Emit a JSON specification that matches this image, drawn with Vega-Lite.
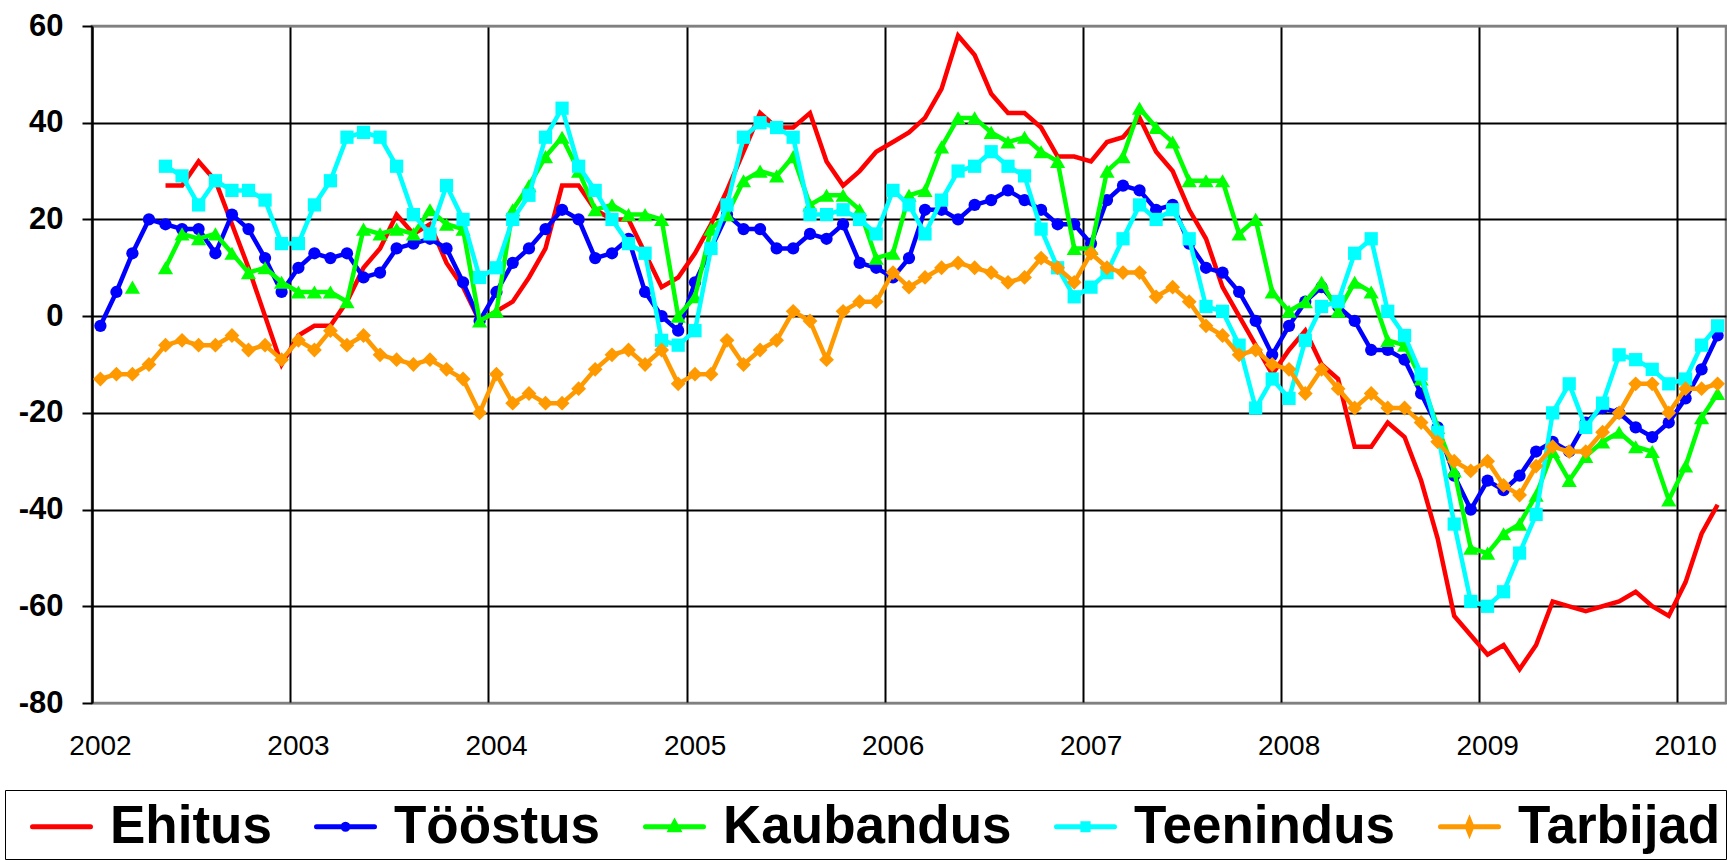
{
  "$schema": "https://vega.github.io/schema/vega-lite/v6.json",
  "width": 1634,
  "height": 677,
  "autosize": {"type": "none"},
  "padding": {"left": 92, "top": 26, "right": 1, "bottom": 157},
  "background": "white",
  "config": {
    "view": {"stroke": "#808080", "strokeWidth": 2.5},
    "axis": {"gridOpacity": 1}
  },
  "data": {
    "values": [
      {"date": "2002-01", "Ehitus": null, "Tööstus": -2, "Kaubandus": null, "Teenindus": null, "Tarbijad": -13},
      {"date": "2002-02", "Ehitus": null, "Tööstus": 5, "Kaubandus": null, "Teenindus": null, "Tarbijad": -12},
      {"date": "2002-03", "Ehitus": null, "Tööstus": 13, "Kaubandus": 6, "Teenindus": null, "Tarbijad": -12},
      {"date": "2002-04", "Ehitus": null, "Tööstus": 20, "Kaubandus": null, "Teenindus": null, "Tarbijad": -10},
      {"date": "2002-05", "Ehitus": 27, "Tööstus": 19, "Kaubandus": 10, "Teenindus": 31, "Tarbijad": -6},
      {"date": "2002-06", "Ehitus": 27, "Tööstus": 18, "Kaubandus": 17, "Teenindus": 29, "Tarbijad": -5},
      {"date": "2002-07", "Ehitus": 32, "Tööstus": 18, "Kaubandus": 16, "Teenindus": 23, "Tarbijad": -6},
      {"date": "2002-08", "Ehitus": 28, "Tööstus": 13, "Kaubandus": 17, "Teenindus": 28, "Tarbijad": -6},
      {"date": "2002-09", "Ehitus": 19, "Tööstus": 21, "Kaubandus": 13, "Teenindus": 26, "Tarbijad": -4},
      {"date": "2002-10", "Ehitus": 10, "Tööstus": 18, "Kaubandus": 9, "Teenindus": 26, "Tarbijad": -7},
      {"date": "2002-11", "Ehitus": 0, "Tööstus": 12, "Kaubandus": 10, "Teenindus": 24, "Tarbijad": -6},
      {"date": "2002-12", "Ehitus": -10, "Tööstus": 5, "Kaubandus": 7, "Teenindus": 15, "Tarbijad": -9},
      {"date": "2003-01", "Ehitus": -4, "Tööstus": 10, "Kaubandus": 5, "Teenindus": 15, "Tarbijad": -5},
      {"date": "2003-02", "Ehitus": -2, "Tööstus": 13, "Kaubandus": 5, "Teenindus": 23, "Tarbijad": -7},
      {"date": "2003-03", "Ehitus": -2, "Tööstus": 12, "Kaubandus": 5, "Teenindus": 28, "Tarbijad": -3},
      {"date": "2003-04", "Ehitus": 3, "Tööstus": 13, "Kaubandus": 3, "Teenindus": 37, "Tarbijad": -6},
      {"date": "2003-05", "Ehitus": 10, "Tööstus": 8, "Kaubandus": 18, "Teenindus": 38, "Tarbijad": -4},
      {"date": "2003-06", "Ehitus": 14, "Tööstus": 9, "Kaubandus": 17, "Teenindus": 37, "Tarbijad": -8},
      {"date": "2003-07", "Ehitus": 21, "Tööstus": 14, "Kaubandus": 18, "Teenindus": 31, "Tarbijad": -9},
      {"date": "2003-08", "Ehitus": 17, "Tööstus": 15, "Kaubandus": 17, "Teenindus": 21, "Tarbijad": -10},
      {"date": "2003-09", "Ehitus": 19, "Tööstus": 16, "Kaubandus": 22, "Teenindus": 17, "Tarbijad": -9},
      {"date": "2003-10", "Ehitus": 11, "Tööstus": 14, "Kaubandus": 19, "Teenindus": 27, "Tarbijad": -11},
      {"date": "2003-11", "Ehitus": 6, "Tööstus": 7, "Kaubandus": 18, "Teenindus": 20, "Tarbijad": -13},
      {"date": "2003-12", "Ehitus": -1, "Tööstus": -1, "Kaubandus": -1, "Teenindus": 8, "Tarbijad": -20},
      {"date": "2004-01", "Ehitus": 1, "Tööstus": 5, "Kaubandus": 1, "Teenindus": 10, "Tarbijad": -12},
      {"date": "2004-02", "Ehitus": 3, "Tööstus": 11, "Kaubandus": 22, "Teenindus": 20, "Tarbijad": -18},
      {"date": "2004-03", "Ehitus": 8, "Tööstus": 14, "Kaubandus": 27, "Teenindus": 25, "Tarbijad": -16},
      {"date": "2004-04", "Ehitus": 14, "Tööstus": 18, "Kaubandus": 33, "Teenindus": 37, "Tarbijad": -18},
      {"date": "2004-05", "Ehitus": 27, "Tööstus": 22, "Kaubandus": 37, "Teenindus": 43, "Tarbijad": -18},
      {"date": "2004-06", "Ehitus": 27, "Tööstus": 20, "Kaubandus": 30, "Teenindus": 31, "Tarbijad": -15},
      {"date": "2004-07", "Ehitus": 22, "Tööstus": 12, "Kaubandus": 22, "Teenindus": 26, "Tarbijad": -11},
      {"date": "2004-08", "Ehitus": 20, "Tööstus": 13, "Kaubandus": 23, "Teenindus": 20, "Tarbijad": -8},
      {"date": "2004-09", "Ehitus": 20, "Tööstus": 16, "Kaubandus": 21, "Teenindus": 15, "Tarbijad": -7},
      {"date": "2004-10", "Ehitus": 13, "Tööstus": 5, "Kaubandus": 21, "Teenindus": 13, "Tarbijad": -10},
      {"date": "2004-11", "Ehitus": 6, "Tööstus": 0, "Kaubandus": 20, "Teenindus": -5, "Tarbijad": -7},
      {"date": "2004-12", "Ehitus": 8, "Tööstus": -3, "Kaubandus": 0, "Teenindus": -6, "Tarbijad": -14},
      {"date": "2005-01", "Ehitus": 13, "Tööstus": 7, "Kaubandus": 4, "Teenindus": -3, "Tarbijad": -12},
      {"date": "2005-02", "Ehitus": 19, "Tööstus": 14, "Kaubandus": 18, "Teenindus": 14, "Tarbijad": -12},
      {"date": "2005-03", "Ehitus": 26, "Tööstus": 21, "Kaubandus": 21, "Teenindus": 23, "Tarbijad": -5},
      {"date": "2005-04", "Ehitus": 34, "Tööstus": 18, "Kaubandus": 28, "Teenindus": 37, "Tarbijad": -10},
      {"date": "2005-05", "Ehitus": 42, "Tööstus": 18, "Kaubandus": 30, "Teenindus": 40, "Tarbijad": -7},
      {"date": "2005-06", "Ehitus": 39, "Tööstus": 14, "Kaubandus": 29, "Teenindus": 39, "Tarbijad": -5},
      {"date": "2005-07", "Ehitus": 39, "Tööstus": 14, "Kaubandus": 33, "Teenindus": 37, "Tarbijad": 1},
      {"date": "2005-08", "Ehitus": 42, "Tööstus": 17, "Kaubandus": 23, "Teenindus": 21, "Tarbijad": -1},
      {"date": "2005-09", "Ehitus": 32, "Tööstus": 16, "Kaubandus": 25, "Teenindus": 21, "Tarbijad": -9},
      {"date": "2005-10", "Ehitus": 27, "Tööstus": 19, "Kaubandus": 25, "Teenindus": 22, "Tarbijad": 1},
      {"date": "2005-11", "Ehitus": 30, "Tööstus": 11, "Kaubandus": 22, "Teenindus": 20, "Tarbijad": 3},
      {"date": "2005-12", "Ehitus": 34, "Tööstus": 10, "Kaubandus": 12, "Teenindus": 17, "Tarbijad": 3},
      {"date": "2006-01", "Ehitus": 36, "Tööstus": 8, "Kaubandus": 13, "Teenindus": 26, "Tarbijad": 9},
      {"date": "2006-02", "Ehitus": 38, "Tööstus": 12, "Kaubandus": 25, "Teenindus": 23, "Tarbijad": 6},
      {"date": "2006-03", "Ehitus": 41, "Tööstus": 22, "Kaubandus": 26, "Teenindus": 17, "Tarbijad": 8},
      {"date": "2006-04", "Ehitus": 47, "Tööstus": 22, "Kaubandus": 35, "Teenindus": 24, "Tarbijad": 10},
      {"date": "2006-05", "Ehitus": 58, "Tööstus": 20, "Kaubandus": 41, "Teenindus": 30, "Tarbijad": 11},
      {"date": "2006-06", "Ehitus": 54, "Tööstus": 23, "Kaubandus": 41, "Teenindus": 31, "Tarbijad": 10},
      {"date": "2006-07", "Ehitus": 46, "Tööstus": 24, "Kaubandus": 38, "Teenindus": 34, "Tarbijad": 9},
      {"date": "2006-08", "Ehitus": 42, "Tööstus": 26, "Kaubandus": 36, "Teenindus": 31, "Tarbijad": 7},
      {"date": "2006-09", "Ehitus": 42, "Tööstus": 24, "Kaubandus": 37, "Teenindus": 29, "Tarbijad": 8},
      {"date": "2006-10", "Ehitus": 39, "Tööstus": 22, "Kaubandus": 34, "Teenindus": 18, "Tarbijad": 12},
      {"date": "2006-11", "Ehitus": 33, "Tööstus": 19, "Kaubandus": 32, "Teenindus": 10, "Tarbijad": 10},
      {"date": "2006-12", "Ehitus": 33, "Tööstus": 19, "Kaubandus": 14, "Teenindus": 4, "Tarbijad": 7},
      {"date": "2007-01", "Ehitus": 32, "Tööstus": 15, "Kaubandus": 14, "Teenindus": 6, "Tarbijad": 13},
      {"date": "2007-02", "Ehitus": 36, "Tööstus": 24, "Kaubandus": 30, "Teenindus": 9, "Tarbijad": 10},
      {"date": "2007-03", "Ehitus": 37, "Tööstus": 27, "Kaubandus": 33, "Teenindus": 16, "Tarbijad": 9},
      {"date": "2007-04", "Ehitus": 41, "Tööstus": 26, "Kaubandus": 43, "Teenindus": 23, "Tarbijad": 9},
      {"date": "2007-05", "Ehitus": 34, "Tööstus": 22, "Kaubandus": 39, "Teenindus": 20, "Tarbijad": 4},
      {"date": "2007-06", "Ehitus": 30, "Tööstus": 23, "Kaubandus": 36, "Teenindus": 22, "Tarbijad": 6},
      {"date": "2007-07", "Ehitus": 22, "Tööstus": 15, "Kaubandus": 28, "Teenindus": 16, "Tarbijad": 3},
      {"date": "2007-08", "Ehitus": 16, "Tööstus": 10, "Kaubandus": 28, "Teenindus": 2, "Tarbijad": -2},
      {"date": "2007-09", "Ehitus": 6, "Tööstus": 9, "Kaubandus": 28, "Teenindus": 1, "Tarbijad": -4},
      {"date": "2007-10", "Ehitus": 0, "Tööstus": 5, "Kaubandus": 17, "Teenindus": -6, "Tarbijad": -8},
      {"date": "2007-11", "Ehitus": -6, "Tööstus": -1, "Kaubandus": 20, "Teenindus": -19, "Tarbijad": -7},
      {"date": "2007-12", "Ehitus": -12, "Tööstus": -8, "Kaubandus": 5, "Teenindus": -13, "Tarbijad": -10},
      {"date": "2008-01", "Ehitus": -7, "Tööstus": -2, "Kaubandus": 1, "Teenindus": -17, "Tarbijad": -11},
      {"date": "2008-02", "Ehitus": -3, "Tööstus": 3, "Kaubandus": 3, "Teenindus": -5, "Tarbijad": -16},
      {"date": "2008-03", "Ehitus": -10, "Tööstus": 6, "Kaubandus": 7, "Teenindus": 2, "Tarbijad": -11},
      {"date": "2008-04", "Ehitus": -13, "Tööstus": 2, "Kaubandus": 1, "Teenindus": 3, "Tarbijad": -15},
      {"date": "2008-05", "Ehitus": -27, "Tööstus": -1, "Kaubandus": 7, "Teenindus": 13, "Tarbijad": -19},
      {"date": "2008-06", "Ehitus": -27, "Tööstus": -7, "Kaubandus": 5, "Teenindus": 16, "Tarbijad": -16},
      {"date": "2008-07", "Ehitus": -22, "Tööstus": -7, "Kaubandus": -5, "Teenindus": 1, "Tarbijad": -19},
      {"date": "2008-08", "Ehitus": -25, "Tööstus": -9, "Kaubandus": -6, "Teenindus": -4, "Tarbijad": -19},
      {"date": "2008-09", "Ehitus": -34, "Tööstus": -16, "Kaubandus": -13, "Teenindus": -12, "Tarbijad": -22},
      {"date": "2008-10", "Ehitus": -46, "Tööstus": -23, "Kaubandus": -23, "Teenindus": -24, "Tarbijad": -26},
      {"date": "2008-11", "Ehitus": -62, "Tööstus": -33, "Kaubandus": -32, "Teenindus": -43, "Tarbijad": -30},
      {"date": "2008-12", "Ehitus": -66, "Tööstus": -40, "Kaubandus": -48, "Teenindus": -59, "Tarbijad": -32},
      {"date": "2009-01", "Ehitus": -70, "Tööstus": -34, "Kaubandus": -49, "Teenindus": -60, "Tarbijad": -30},
      {"date": "2009-02", "Ehitus": -68, "Tööstus": -36, "Kaubandus": -45, "Teenindus": -57, "Tarbijad": -35},
      {"date": "2009-03", "Ehitus": -73, "Tööstus": -33, "Kaubandus": -43, "Teenindus": -49, "Tarbijad": -37},
      {"date": "2009-04", "Ehitus": -68, "Tööstus": -28, "Kaubandus": -37, "Teenindus": -41, "Tarbijad": -31},
      {"date": "2009-05", "Ehitus": -59, "Tööstus": -26, "Kaubandus": -28, "Teenindus": -20, "Tarbijad": -27},
      {"date": "2009-06", "Ehitus": -60, "Tööstus": -28, "Kaubandus": -34, "Teenindus": -14, "Tarbijad": -28},
      {"date": "2009-07", "Ehitus": -61, "Tööstus": -22, "Kaubandus": -29, "Teenindus": -23, "Tarbijad": -28},
      {"date": "2009-08", "Ehitus": -60, "Tööstus": -19, "Kaubandus": -26, "Teenindus": -18, "Tarbijad": -24},
      {"date": "2009-09", "Ehitus": -59, "Tööstus": -20, "Kaubandus": -24, "Teenindus": -8, "Tarbijad": -20},
      {"date": "2009-10", "Ehitus": -57, "Tööstus": -23, "Kaubandus": -27, "Teenindus": -9, "Tarbijad": -14},
      {"date": "2009-11", "Ehitus": -60, "Tööstus": -25, "Kaubandus": -28, "Teenindus": -11, "Tarbijad": -14},
      {"date": "2009-12", "Ehitus": -62, "Tööstus": -22, "Kaubandus": -38, "Teenindus": -14, "Tarbijad": -20},
      {"date": "2010-01", "Ehitus": -55, "Tööstus": -17, "Kaubandus": -31, "Teenindus": -13, "Tarbijad": -15},
      {"date": "2010-02", "Ehitus": -45, "Tööstus": -11, "Kaubandus": -21, "Teenindus": -6, "Tarbijad": -15},
      {"date": "2010-03", "Ehitus": -39, "Tööstus": -4, "Kaubandus": -16, "Teenindus": -2, "Tarbijad": -14}
    ]
  },
  "transform": [
    {"fold": ["Ehitus", "Tööstus", "Kaubandus", "Teenindus", "Tarbijad"], "as": ["series", "value"]}
  ],
  "encoding": {
    "x": {
      "field": "date",
      "type": "temporal",
      "timeUnit": "utcyearmonth",
      "bandPosition": 0.5,
      "scale": {
        "domain": [
          {"year": 2002, "month": 1, "date": 1, "utc": true},
          {"year": 2010, "month": 4, "date": 1, "utc": true}
        ]
      },
      "axis": {
        "title": null,
        "values": [
          {"year": 2002, "month": 1, "date": 1, "utc": true},
          {"year": 2003, "month": 1, "date": 1, "utc": true},
          {"year": 2004, "month": 1, "date": 1, "utc": true},
          {"year": 2005, "month": 1, "date": 1, "utc": true},
          {"year": 2006, "month": 1, "date": 1, "utc": true},
          {"year": 2007, "month": 1, "date": 1, "utc": true},
          {"year": 2008, "month": 1, "date": 1, "utc": true},
          {"year": 2009, "month": 1, "date": 1, "utc": true},
          {"year": 2010, "month": 1, "date": 1, "utc": true}
        ],
        "labelExpr": "utcFormat(datum.value, '%Y')",
        "grid": true,
        "gridColor": "black",
        "gridWidth": 2,
        "domain": false,
        "ticks": false,
        "tickSize": 0,
        "labelOffset": 8,
        "labelFlush": false,
        "labelOverlap": false,
        "labelPadding": 29,
        "labelFont": "Liberation Sans Narrow, Liberation Sans",
        "labelFontSize": 28,
        "labelColor": "black"
      }
    },
    "y": {
      "field": "value",
      "type": "quantitative",
      "scale": {"domain": [-80, 60], "nice": false, "zero": false},
      "axis": {
        "title": null,
        "values": [-80, -60, -40, -20, 0, 20, 40, 60],
        "labelExpr": "'' + datum.value",
        "grid": true,
        "gridColor": {"condition": {"test": "datum.value == 60 || datum.value == -80", "value": "#808080"}, "value": "black"},
        "gridWidth": 2,
        "domain": true,
        "domainColor": "black",
        "domainWidth": 2,
        "ticks": true,
        "tickColor": "black",
        "tickWidth": 2,
        "tickSize": 10,
        "labelPadding": 19,
        "labelFont": "Liberation Sans",
        "labelFontWeight": "bold",
        "labelFontSize": 31,
        "labelColor": "black"
      }
    },
    "color": {
      "field": "series",
      "type": "nominal",
      "scale": {
        "domain": ["Ehitus", "Tööstus", "Kaubandus", "Teenindus", "Tarbijad"],
        "range": ["#FF0000", "#0000FF", "#00FF00", "#00FFFF", "#FF9900"]
      },
      "legend": {
        "orient": "none",
        "legendX": -87,
        "legendY": 764,
        "direction": "horizontal",
        "columns": 5,
        "title": " ",
        "titleOrient": "left",
        "titleFontSize": 1,
        "titlePadding": 20,
        "padding": 5,
        "strokeColor": "black",
        "fillColor": "white",
        "symbolSize": 3364,
        "symbolStrokeWidth": 5,
        "symbolType": "stroke",
        "labelFont": "Liberation Sans",
        "labelFontSize": 53,
        "labelFontWeight": "bold",
        "labelColor": "black",
        "labelOffset": 17,
        "labelLimit": 600,
        "columnPadding": 34,
        "encode": {
          "symbols": {
            "update": {
              "shape": {"signal": "datum.value == 'Ehitus' ? 'M-1,0H1' : datum.value == 'Tööstus' ? 'M-1,0H1M0.09,0A0.09,0.09 0 1 1 -0.09,0A0.09,0.09 0 1 1 0.09,0Z' : datum.value == 'Kaubandus' ? 'M-1,0H1M0,-0.14L0.13,0.1L-0.13,0.1Z' : datum.value == 'Teenindus' ? 'M-1,0H1M-0.09,-0.1H0.09V0.1H-0.09Z' : 'M-1,0H1M0,-0.2L0.08,0L0,0.2L-0.08,0Z'"},
              "fill": {"signal": "scale('color', datum.value)"},
              "stroke": {"signal": "scale('color', datum.value)"},
              "strokeWidth": {"value": 5},
              "strokeCap": {"value": "round"},
              "opacity": {"value": 1},
              "fillOpacity": {"value": 1},
              "size": {"value": 3364}
            }
          }
        }
      }
    }
  },
  "layer": [
    {
      "transform": [{"filter": "datum.series == 'Ehitus'"}],
      "mark": {"type": "line", "strokeWidth": 4.5, "invalid": "break-paths-filter-domains"}
    },
    {
      "transform": [{"filter": "datum.series == 'Tööstus'"}],
      "mark": {"type": "line", "strokeWidth": 4.5, "invalid": "break-paths-filter-domains", "point": {"filled": true, "shape": "circle", "size": 150, "opacity": 1}}
    },
    {
      "transform": [{"filter": "datum.series == 'Kaubandus'"}],
      "mark": {"type": "line", "strokeWidth": 4.5, "invalid": "break-paths-filter-domains", "point": {"filled": true, "shape": "triangle-up", "size": 230, "opacity": 1}}
    },
    {
      "transform": [{"filter": "datum.series == 'Teenindus'"}],
      "mark": {"type": "line", "strokeWidth": 4.5, "invalid": "break-paths-filter-domains", "point": {"filled": true, "shape": "square", "size": 175, "opacity": 1}}
    },
    {
      "transform": [{"filter": "datum.series == 'Tarbijad'"}],
      "mark": {"type": "line", "strokeWidth": 4.5, "invalid": "break-paths-filter-domains", "point": {"filled": true, "shape": "diamond", "size": 220, "opacity": 1}}
    }
  ]
}
